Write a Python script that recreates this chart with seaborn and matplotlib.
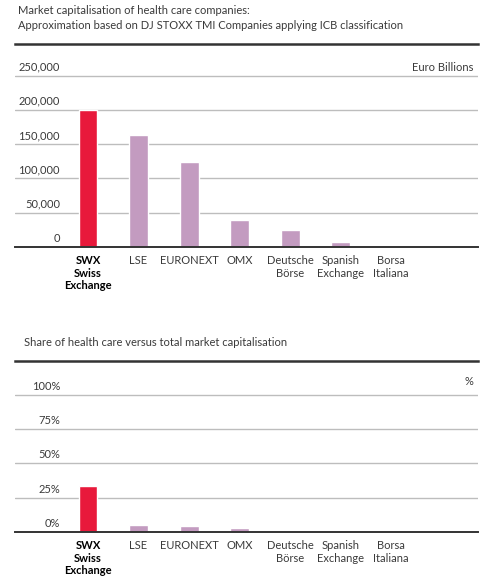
# plot.py
# Two stacked bar charts: health care market capitalisation by exchange
# and the health care share of total market capitalisation.

import matplotlib
matplotlib.use("Agg")
import matplotlib.pyplot as plt
import matplotlib.transforms as mtransforms
import seaborn as sns
import pandas as pd

# ---- data ----
exchanges = ["SWX\nSwiss\nExchange", "LSE", "EURONEXT", "OMX",
             "Deutsche\nBörse", "Spanish\nExchange", "Borsa\nItaliana"]
market_cap = [200000, 163000, 124000, 39000, 24500, 7000, 0]
health_share = [33.5, 5.0, 4.4, 3.0, 1.0, 0.3, 0.0]

cap_ticks = [0, 50000, 100000, 150000, 200000, 250000]
cap_tick_labels = ["0", "50,000", "100,000", "150,000", "200,000", "250,000"]
share_ticks = [0, 25, 50, 75, 100]
share_tick_labels = ["0%", "25%", "50%", "75%", "100%"]

title_top = ("Market capitalisation of health care companies:\n"
             "Approximation based on DJ STOXX TMI Companies applying ICB classification")
title_bottom = "Share of health care versus total market capitalisation"
unit_top = "Euro Billions"
unit_bottom = "%"

RED = "#E8193B"
MAUVE = "#C39BC0"
palette = {name: (RED if i == 0 else MAUVE) for i, name in enumerate(exchanges)}

sns.set_theme(style="white")
plt.rcParams["font.family"] = ["Lato", "DejaVu Sans"]
TEXT = "#3a3a3a"

fig = plt.figure(figsize=(4.87, 5.79), dpi=100)
W, H = 487, 579


def axes_from_px(x0, y0, x1, y1):
    return fig.add_axes([x0 / W, 1 - y1 / H, (x1 - x0) / W, (y1 - y0) / H])


def draw_panel(ax, values, ticks, tick_labels, ytop, unit, unit_lift=0):
    df = pd.DataFrame({"exchange": exchanges, "value": values})
    sns.barplot(data=df, x="exchange", y="value", hue="exchange",
                palette=palette, legend=False, width=0.375,
                saturation=1, ax=ax)
    ax.set_xlim(-1.445, 7.72)
    ax.set_ylim(0, ytop)
    ax.set_xlabel("")
    ax.set_ylabel("")

    ax.set_yticks(ticks)
    ax.set_yticklabels([])
    ax.tick_params(axis="y", length=0)
    ax.yaxis.grid(True, color="#bdbdbd", linewidth=1.0)
    ax.set_axisbelow(True)

    # tick labels sit just above their gridline, inside the plot
    trans = mtransforms.blended_transform_factory(ax.transAxes, ax.transData)
    off = mtransforms.ScaledTranslation(0, 3 / 100, fig.dpi_scale_trans)
    for t, lab in zip(ticks, tick_labels):
        ax.text((60 - 15) / 463, t, lab, transform=trans + off,
                ha="right", va="bottom", fontsize=8, color=TEXT)
    uoff = mtransforms.ScaledTranslation(0, (3 + unit_lift) / 100,
                                         fig.dpi_scale_trans)
    ax.text(0.99, ticks[-1], unit, transform=trans + uoff,
            ha="right", va="bottom", fontsize=8, color=TEXT)

    for side in ["left", "right"]:
        ax.spines[side].set_visible(False)
    ax.spines["top"].set_color("#333333")
    ax.spines["top"].set_linewidth(1.8)
    ax.spines["bottom"].set_color("#333333")
    ax.spines["bottom"].set_linewidth(1.4)

    ax.tick_params(axis="x", length=0, pad=6)
    ax.set_xticks(range(len(exchanges)))
    ax.set_xticklabels(exchanges, fontsize=8, color=TEXT, linespacing=1.15,
                       va="top")
    first = ax.get_xticklabels()[0]
    first.set_fontweight("bold")
    first.set_color("black")


ax1 = axes_from_px(15, 44, 478, 247)
draw_panel(ax1, market_cap, cap_ticks, cap_tick_labels, 296000, unit_top)

ax2 = axes_from_px(15, 361, 478, 532)
draw_panel(ax2, health_share, share_ticks, share_tick_labels, 124.8,
           unit_bottom, unit_lift=5)

fig.text(18 / W, 1 - 5 / H, title_top, ha="left", va="top",
         fontsize=8, color=TEXT, linespacing=1.45)
fig.text(24 / W, 1 - 337 / H, title_bottom, ha="left", va="top",
         fontsize=8, color=TEXT)

fig.savefig("out.png", dpi=100)
